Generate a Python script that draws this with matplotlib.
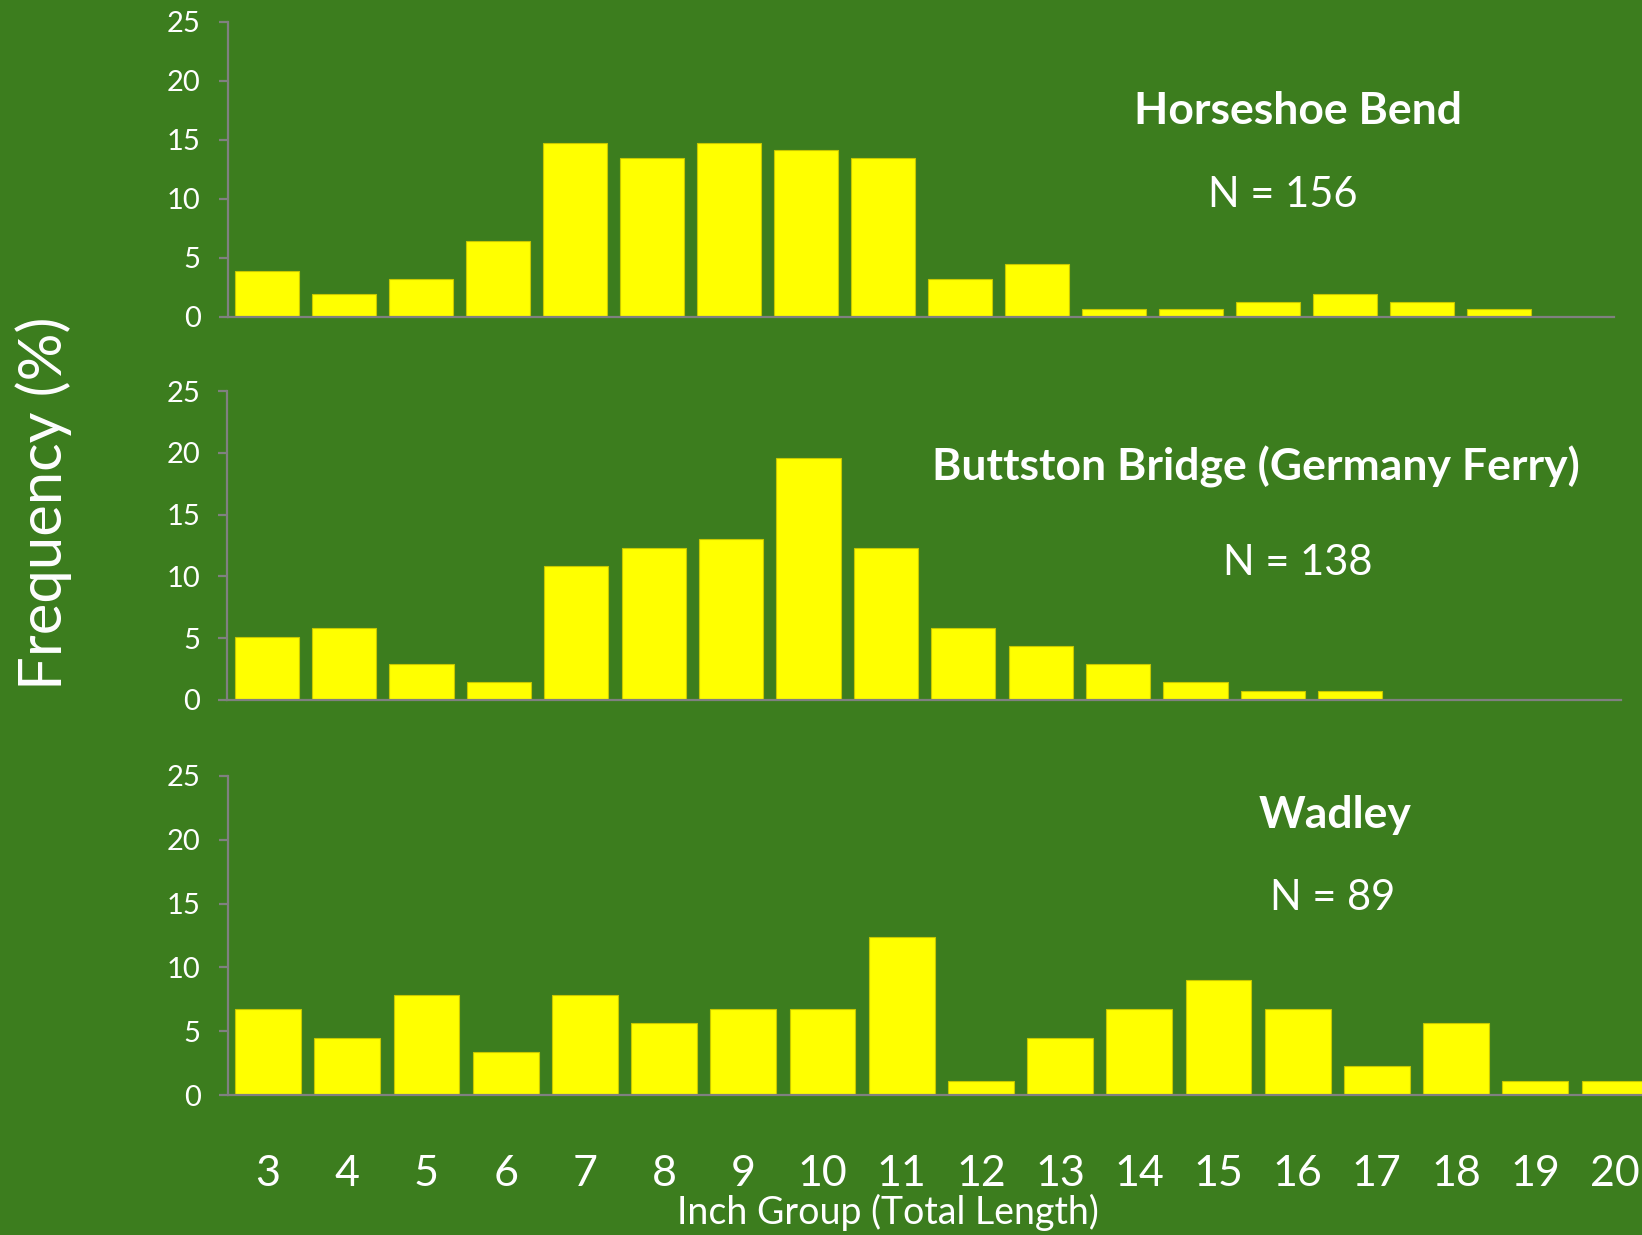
import matplotlib
matplotlib.use("Agg")
import matplotlib.pyplot as plt

plt.rcParams['font.family'] = ['Lato', 'DejaVu Sans']

inch_groups = list(range(3, 21))
tick_labels = [str(g) for g in inch_groups]

horseshoe_bend = [3.85, 1.92, 3.21, 6.41, 14.74, 13.46, 14.74, 14.10, 13.46,
                  3.21, 4.49, 0.64, 0.64, 1.28, 1.92, 1.28, 0.64, 0.0]
buttston_bridge = [5.07, 5.80, 2.90, 1.45, 10.87, 12.32, 13.04, 19.57, 12.32,
                   5.80, 4.35, 2.90, 1.45, 0.72, 0.72, 0.0, 0.0, 0.0]
wadley = [6.74, 4.49, 7.87, 3.37, 7.87, 5.62, 6.74, 6.74, 12.36,
          1.12, 4.49, 6.74, 8.99, 6.74, 2.25, 5.62, 1.12, 1.12]

titles = ["Horseshoe Bend", "Buttston Bridge (Germany Ferry)", "Wadley"]
n_labels = ["N = 156", "N = 138", "N = 89"]
series = [horseshoe_bend, buttston_bridge, wadley]
yticks = [0, 5, 10, 15, 20, 25]

W, H = 1642, 1235
BG = '#3C7D1E'
GRAY = '#808080'

fig = plt.figure(figsize=(W / 100, H / 100), dpi=100, facecolor=BG)

# axes rectangles in pixels: (x0, y_top(25), y_bottom(0), category spacing)
rects = [(227.7, 22, 316.7, 77.0),
         (227.3, 391, 700, 77.4),
         (227.7, 776, 1095, 79.2)]
title_pos = [((1298, 111), (1283, 195)),
             ((1256, 467), (1298, 563)),
             ((1335, 815), (1333, 898))]

for i, (vals, (x0, yt, yb, sp)) in enumerate(zip(series, rects)):
    ax = fig.add_axes([x0 / W, 1 - yb / H, 18 * sp / W, (yb - yt) / H])
    ax.set_facecolor(BG)
    ax.bar(inch_groups, vals, width=0.83, color='#FFFF00',
           edgecolor='#C8C800', linewidth=0.8, zorder=2)
    ax.set_xlim(2.49, 20.49)
    ax.set_ylim(0, 25)
    ax.set_yticks(yticks)
    ax.set_yticklabels([str(t) for t in yticks])
    for s in ['top', 'right']:
        ax.spines[s].set_visible(False)
    for s in ['left', 'bottom']:
        ax.spines[s].set_color(GRAY)
        ax.spines[s].set_linewidth(1.6)
        ax.spines[s].set_zorder(3)
    ax.tick_params(axis='y', colors=GRAY, labelcolor='white', labelsize=21,
                   length=6.5, width=1.6, pad=13)
    ax.set_xticks(inch_groups)
    if i == 2:
        ax.set_xticklabels(tick_labels)
        ax.tick_params(axis='x', length=0, labelcolor='white', labelsize=31, pad=43)
    else:
        ax.set_xticklabels([])
        ax.tick_params(axis='x', length=0)
    (tx, ty), (nx, ny) = title_pos[i]
    fig.text(tx / W, 1 - ty / H, titles[i], color='white', fontsize=32,
             fontweight='bold', ha='center', va='center')
    fig.text(nx / W, 1 - ny / H, n_labels[i], color='white', fontsize=30,
             ha='center', va='center')

fig.text(888 / W, 1 - 1224 / H, "Inch Group (Total Length)", color='white',
         fontsize=27, ha='center', va='baseline')
fig.text(44 / W, 1 - 503 / H, "Frequency (%)", color='white', fontsize=43,
         rotation=90, ha='center', va='center')

fig.savefig("out.png", dpi=100, facecolor=BG)
